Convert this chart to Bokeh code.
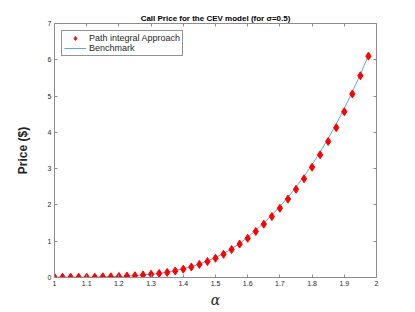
from bokeh.plotting import figure
from bokeh.models import Range1d, LinearAxis, Legend, LegendItem, FixedTicker
from bokeh.embed import file_html
from bokeh.resources import INLINE

alpha = [1.0, 1.025, 1.05, 1.075, 1.1, 1.125, 1.15, 1.175, 1.2, 1.225,
         1.25, 1.275, 1.3, 1.325, 1.35, 1.375, 1.4, 1.425, 1.45, 1.475,
         1.5, 1.525, 1.55, 1.575, 1.6, 1.625, 1.65, 1.675, 1.7, 1.725,
         1.75, 1.775, 1.8, 1.825, 1.85, 1.875, 1.9, 1.925, 1.95, 1.975]
path_integral = [0.01, 0.01, 0.01, 0.01, 0.01, 0.01, 0.02, 0.02, 0.03, 0.04,
                 0.05, 0.07, 0.09, 0.11, 0.14, 0.18, 0.23, 0.29, 0.36, 0.44,
                 0.53, 0.64, 0.77, 0.92, 1.08, 1.27, 1.47, 1.68, 1.91, 2.16,
                 2.43, 2.72, 3.04, 3.38, 3.75, 4.13, 4.57, 5.06, 5.56, 6.10]
benchmark = [0.01, 0.01, 0.01, 0.01, 0.01, 0.01, 0.02, 0.02, 0.03, 0.04,
             0.05, 0.07, 0.09, 0.11, 0.15, 0.19, 0.24, 0.30, 0.37, 0.45,
             0.55, 0.66, 0.79, 0.94, 1.11, 1.30, 1.50, 1.72, 1.96, 2.21,
             2.49, 2.79, 3.11, 3.46, 3.83, 4.23, 4.66, 5.12, 5.60, 6.12]
x_ticks = [1, 1.1, 1.2, 1.3, 1.4, 1.5, 1.6, 1.7, 1.8, 1.9, 2]
y_ticks = [0, 1, 2, 3, 4, 5, 6, 7]

FONT = "Liberation Sans"
AX = "#262626"
GRAY = "#8c8c8c"

p = figure(frame_width=322, frame_height=254, output_backend="svg",
           toolbar_location=None, x_range=Range1d(1, 2), y_range=Range1d(0, 7),
           min_border_left=54, min_border_right=31, min_border_top=23,
           min_border_bottom=27)

p.title.text = "Call Price for the CEV model (for \u03c3=0.5)"
p.title.text_font = FONT
p.title.text_font_size = "8px"
p.title.text_font_style = "bold"
p.title.align = "center"
p.title.text_color = "#000000"
p.title.standoff = 2
p.title.offset = 0

p.grid.visible = False
p.outline_line_color = None
p.background_fill_color = "white"

for ax in [p.xaxis[0], p.yaxis[0]]:
    ax.major_tick_in = 3
    ax.major_tick_out = 0
    ax.minor_tick_line_color = None
    ax.axis_line_color = GRAY
    ax.major_tick_line_color = GRAY
    ax.major_label_text_font = FONT
    ax.major_label_text_font_size = "7px"
    ax.major_label_text_color = AX
    ax.major_label_standoff = 3

p.xaxis[0].ticker = FixedTicker(ticks=x_ticks)
p.yaxis[0].ticker = FixedTicker(ticks=y_ticks)
p.xaxis[0].axis_label = "\u03b1"
p.xaxis[0].axis_label_text_font = "DejaVu Serif"
p.xaxis[0].axis_label_text_font_style = "italic"
p.xaxis[0].axis_label_text_font_size = "14px"
p.xaxis[0].axis_label_text_color = AX
p.xaxis[0].axis_label_standoff = 3
p.yaxis[0].axis_label = "Price ($)"
p.yaxis[0].axis_label_text_font = FONT
p.yaxis[0].axis_label_text_font_style = "bold"
p.yaxis[0].axis_label_text_font_size = "12px"
p.yaxis[0].axis_label_text_color = AX
p.yaxis[0].axis_label_standoff = 15

top = LinearAxis(ticker=FixedTicker(ticks=x_ticks),
                 major_label_overrides={t: "" for t in x_ticks},
                 major_tick_in=3, major_tick_out=0, minor_tick_line_color=None,
                 axis_line_color=GRAY, major_tick_line_color=GRAY,
                 major_label_standoff=0, major_label_text_font_size="7px")
right = LinearAxis(ticker=FixedTicker(ticks=y_ticks),
                   major_label_overrides={t: "" for t in y_ticks},
                   major_tick_in=3, major_tick_out=0, minor_tick_line_color=None,
                   axis_line_color=GRAY, major_tick_line_color=GRAY,
                   major_label_standoff=0, major_label_text_font_size="7px")
p.add_layout(top, "above")
p.add_layout(right, "right")

ln = p.line(alpha, benchmark, line_color="#5fa8dc", line_width=1)
mk = p.scatter(alpha, path_integral, marker="diamond", size=8,
               fill_color="#ff0000", line_color="#ff0000")
p.renderers = [ln, mk]

legend = Legend(items=[LegendItem(label="Path integral Approach", renderers=[mk]),
                       LegendItem(label="Benchmark", renderers=[ln])],
                location="top_left")
legend.label_text_font = FONT
legend.label_text_font_size = "9px"
legend.label_text_color = AX
legend.border_line_color = AX
legend.border_line_width = 1
legend.glyph_width = 22
legend.glyph_height = 10
legend.label_height = 10
legend.spacing = 0
legend.padding = 2
legend.margin = 7
legend.label_standoff = 3
legend.background_fill_color = "white"
p.add_layout(legend, "center")

open("out.html", "w").write(file_html(p, INLINE))
